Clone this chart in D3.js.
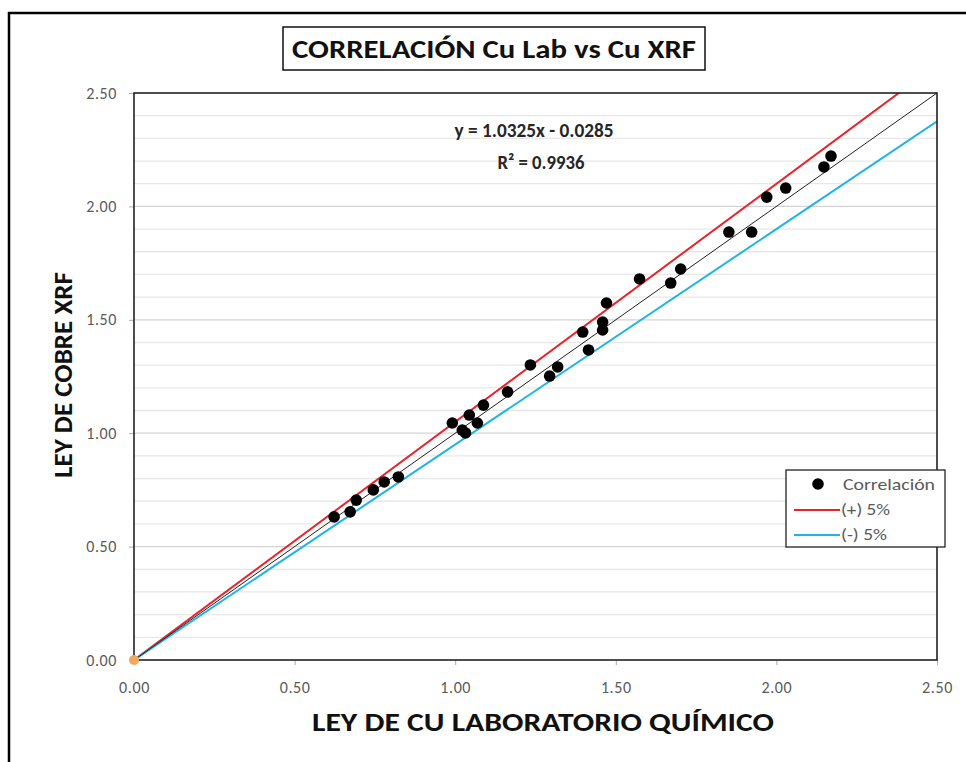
<!DOCTYPE html>
<html>
<head>
<meta charset="utf-8">
<script src="https://cdn.jsdelivr.net/npm/d3@7"></script>
<style>
  body { margin: 0; background: #fff; }
  svg { display: block; font-family: Carlito, Lato, "Open Sans", sans-serif; }
</style>
</head>
<body>
<div id="chart"></div>
<script>
// Cu lab (x) vs Cu XRF (y)
const cuLab = [0.623, 0.673, 0.692, 0.745, 0.779, 0.823, 0.991, 1.022, 1.032, 1.044,
  1.069, 1.088, 1.163, 1.234, 1.294, 1.319, 1.397, 1.415, 1.459, 1.459,
  1.471, 1.574, 1.671, 1.702, 1.852, 1.923, 1.970, 2.029, 2.148, 2.170];
const cuXrf = [0.631, 0.653, 0.705, 0.750, 0.785, 0.807, 1.045, 1.014, 1.001, 1.080,
  1.045, 1.124, 1.182, 1.301, 1.252, 1.292, 1.446, 1.367, 1.455, 1.490,
  1.574, 1.680, 1.662, 1.724, 1.887, 1.887, 2.041, 2.081, 2.174, 2.222];

// reference lines (end points)
const refX = [0, 2.5];
const oneToOneY = [0, 2.5];
const plusY = [0, 2.625];
const minusY = [0, 2.375];

const majorTicks = [0, 0.5, 1.0, 1.5, 2.0, 2.5];
const minorTicks = d3.range(1, 25).map((i) => i / 10);
const legendLabels = ["Correlación", "(+) 5%", "(-) 5%"];

const W = 966, H = 762;
const margin = { top: 93, right: 29, bottom: 102, left: 134 };
const width = W - margin.left - margin.right;
const height = H - margin.top - margin.bottom;

const svg = d3.select("#chart").append("svg")
  .attr("width", W).attr("height", H);

// outer frame
svg.append("rect")
  .attr("x", 9).attr("y", 13).attr("width", 980).attr("height", 780)
  .attr("fill", "none").attr("stroke", "#000").attr("stroke-width", 2.5);

// title box
svg.append("rect")
  .attr("x", 283).attr("y", 27).attr("width", 422).attr("height", 43)
  .attr("fill", "#fff").attr("stroke", "#111").attr("stroke-width", 1.5);
svg.append("text")
  .attr("x", 494).attr("y", 58).attr("text-anchor", "middle")
  .attr("textLength", 404).attr("lengthAdjust", "spacingAndGlyphs")
  .style("font-size", "26px").style("font-weight", "600").style("fill", "#111")
  .text("CORRELACIÓN Cu Lab vs Cu XRF");

const g = svg.append("g").attr("transform", `translate(${margin.left},${margin.top})`);

const x = d3.scaleLinear().domain([0, 2.5]).range([0, width]);
const y = d3.scaleLinear().domain([0, 2.5]).range([height, 0]);

// horizontal gridlines
g.append("g").selectAll("line").data(minorTicks).join("line")
  .attr("x1", 0).attr("x2", width)
  .attr("y1", (d) => y(d)).attr("y2", (d) => y(d))
  .attr("stroke", (d) => (Math.round(d * 10) % 5 === 0 ? "#d4d4d4" : "#e8e8e8"))
  .attr("stroke-width", 1.3);

// axes
const xAxis = g.append("g").attr("transform", `translate(0,${height})`)
  .call(d3.axisBottom(x).tickValues(majorTicks).tickFormat(d3.format(".2f")).tickSize(5).tickPadding(17));
const yAxis = g.append("g")
  .call(d3.axisLeft(y).tickValues(majorTicks).tickFormat(d3.format(".2f")).tickSize(5).tickPadding(12));
[xAxis, yAxis].forEach((a) => {
  a.select(".domain").remove();
  a.selectAll("line").attr("stroke", "#aaa");
  a.selectAll("text").style("font-size", "16px").style("fill", "#595959")
    .style("letter-spacing", "0.6px")
    .style("font-family", "Carlito, Lato, sans-serif");
});

// clip for lines
svg.append("clipPath").attr("id", "plotClip")
  .append("rect").attr("width", width).attr("height", height);

const line = d3.line().x((d) => x(d[0])).y((d) => y(d[1]));
const lines = g.append("g").attr("clip-path", "url(#plotClip)");
lines.append("path").datum(d3.zip(refX, plusY)).attr("d", line)
  .attr("fill", "none").attr("stroke", "#E8232B").attr("stroke-width", 2);
lines.append("path").datum(d3.zip(refX, minusY)).attr("d", line)
  .attr("fill", "none").attr("stroke", "#1FB4E6").attr("stroke-width", 2);
lines.append("path").datum(d3.zip(refX, oneToOneY)).attr("d", line)
  .attr("fill", "none").attr("stroke", "#222").attr("stroke-width", 1);

// plot border
g.append("rect").attr("width", width).attr("height", height)
  .attr("fill", "none").attr("stroke", "#222").attr("stroke-width", 1.6);

// points
g.append("g").selectAll("circle").data(d3.zip(cuLab, cuXrf)).join("circle")
  .attr("cx", (d) => x(d[0])).attr("cy", (d) => y(d[1]))
  .attr("r", 5.8).attr("fill", "#000");

// origin marker
g.append("circle").attr("cx", x(0)).attr("cy", y(0)).attr("r", 5)
  .attr("fill", "#F2A65E");

// regression text
g.append("text").attr("x", 400).attr("y", 44).attr("text-anchor", "middle")
  .attr("textLength", 159).attr("lengthAdjust", "spacingAndGlyphs")
  .style("font-size", "20px").style("font-weight", "bold").style("fill", "#262626")
  .text("y = 1.0325x - 0.0285");
g.append("text").attr("x", 407).attr("y", 76).attr("text-anchor", "middle")
  .attr("textLength", 87).attr("lengthAdjust", "spacingAndGlyphs")
  .style("font-size", "20px").style("font-weight", "bold").style("fill", "#262626")
  .text("R² = 0.9936");

// axis titles
svg.append("text").attr("x", 543).attr("y", 731).attr("text-anchor", "middle")
  .attr("textLength", 462).attr("lengthAdjust", "spacingAndGlyphs")
  .style("font-size", "27px").style("font-weight", "bold").style("fill", "#111")
  .text("LEY DE CU LABORATORIO QUÍMICO");
svg.append("text").attr("transform", "translate(72,375) rotate(-90)")
  .attr("text-anchor", "middle")
  .attr("textLength", 206).attr("lengthAdjust", "spacingAndGlyphs")
  .style("font-size", "27px").style("font-weight", "bold").style("fill", "#111")
  .text("LEY DE COBRE XRF");

// legend
const legend = svg.append("g").attr("transform", "translate(786,470)");
legend.append("rect").attr("width", 159).attr("height", 77)
  .attr("fill", "#fff").attr("stroke", "#222").attr("stroke-width", 1.3);
legend.append("circle").attr("cx", 32).attr("cy", 14).attr("r", 5.8).attr("fill", "#000");
legend.append("line").attr("x1", 8).attr("x2", 54).attr("y1", 40).attr("y2", 40)
  .attr("stroke", "#E8232B").attr("stroke-width", 2);
legend.append("line").attr("x1", 8).attr("x2", 54).attr("y1", 65).attr("y2", 65)
  .attr("stroke", "#1FB4E6").attr("stroke-width", 2);
const legendWidths = [92, 49, 46];
legend.selectAll("text.lbl").data(legendLabels).join("text")
  .attr("class", "lbl").attr("x", (d, i) => (i === 0 ? 57 : 55)).attr("y", (d, i) => 20 + i * 25)
  .attr("textLength", (d, i) => legendWidths[i]).attr("lengthAdjust", "spacingAndGlyphs")
  .style("font-size", "17px").style("fill", "#595959")
  .text((d) => d);
</script>
</body>
</html>
